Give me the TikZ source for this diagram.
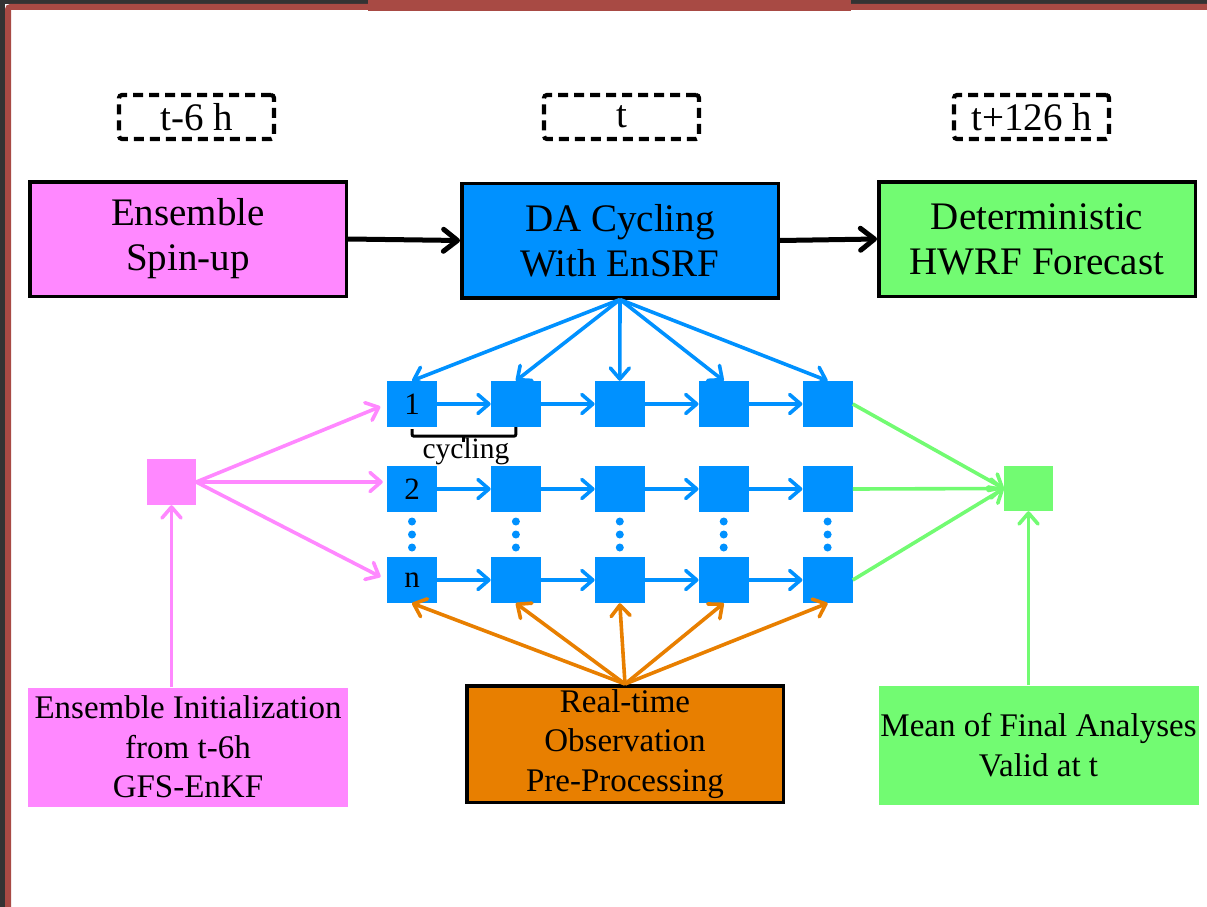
\documentclass[tikz,border=0pt]{standalone}
\usepackage{fontspec}
\setmainfont{Liberation Serif}
\usepackage{tikz}
\usetikzlibrary{arrows.meta, positioning, calc}
\definecolor{slate}{HTML}{333333}
\definecolor{rust}{HTML}{A84A44}
\definecolor{spinpink}{HTML}{FF88FF}
\definecolor{sky}{HTML}{0091FF}
\definecolor{lime}{HTML}{72FB72}
\definecolor{amber}{HTML}{E87F00}

\begin{document}
\begin{tikzpicture}[x=1pt, y=-1pt,
  node distance=53.5pt,
  bigbox/.style={draw=black, line width=3.5pt, minimum width=316.5pt, minimum height=114.5pt, inner sep=0pt, align=center, font=\fontsize{39}{45}\selectfont},
  lowbox/.style={minimum width=320pt, minimum height=119pt, inner sep=0pt, align=center, font=\fontsize{33}{39.5}\selectfont},
  timebox/.style={draw=black, line width=4.2pt, dash pattern=on 10pt off 6pt, rounded corners=3pt, minimum width=155pt, minimum height=44pt, inner sep=0pt, font=\fontsize{39}{44}\selectfont},
  sqr/.style={fill=sky, minimum width=50pt, minimum height=46pt, inner sep=0pt, font=\fontsize{31}{33}\selectfont},
  arr/.style={-{Straight Barb[length=11pt, width=19pt, round]}, line width=3.6pt},
  bigarr/.style={-{Straight Barb[length=14pt, width=22pt, round]}, line width=5pt}
]
  \useasboundingbox (0,0) rectangle (1207,907);
  % slide frame
  \fill[slate] (0,0) rectangle (1207,4);
  \fill[slate] (0,0) rectangle (5,907);
  \fill[rust] (5,907) [rounded corners=5pt] -- (5,4) [sharp corners] -- (1207,4) -- (1207,10) -- (11,10) -- (11,907) -- cycle;
  \fill[rust] (368,0) rectangle (851,11);

  % time labels
  \node[timebox] (tm6) at (196.5,117) {t-6 h};
  \node[timebox] (t0) at (621.5,117) {t};
  \node[timebox] (tp126) at (1031.5,117) {t+126 h};

  % top row
  \node[bigbox, fill=spinpink] (spin) at (188,239) {Ensemble\\Spin-up};
  \node[bigbox, fill=sky] (da) at (620,240.5) {DA Cycling\\With EnSRF};
  \node[bigbox, fill=lime] (det) at (1037,239) {Deterministic\\HWRF Forecast};
  \draw[bigarr] (spin.east) -- (da.west);
  \draw[bigarr] (da.east) -- (det.west);

  % ensemble members
  \foreach \row/\y/\lab in {a/404/1, b/489/2, c/580/n} {
    \node[sqr] (\row1) at (412,\y) {\lab};
    \foreach \col [count=\prev] in {2,...,5}
      \node[sqr, right=of \row\prev] (\row\col) {};
  }
  \foreach \row in {a,b,c}
    \foreach \prev/\col in {1/2, 2/3, 3/4, 4/5}
      \draw[arr, sky] (\row\prev) -- (\row\col);
  \foreach \col in {1,...,5}
    \foreach \k in {-13,0,13}
      \fill[sky] ($(b\col)!0.5!(c\col)+(0,\k)$) circle (4);

  % cycling brace
  \draw[line width=3pt, rounded corners=2pt] (a1.south) ++(0,2) |- ($(a2.south)+(0,9)$) -- (a2.south);
  \draw[line width=3pt] ($(a1.south)!0.5!(a2.south)+(0,9)$) -- ++(0,6);
  \node[font=\fontsize{29.5}{32}\selectfont] (cyc) at (466,451) {cycling};

  \foreach \col in {1,...,5}
    \draw[arr, sky] (da.south) -- (a\col.north);

  % initial and final states
  \node[minimum width=49pt, minimum height=46pt, inner sep=0pt, fill=spinpink] (msq) at (171.5,482) {};
  \node[minimum width=49pt, minimum height=45pt, inner sep=0pt, fill=lime] (gsq) at (1028.5,488.5) {};
  \draw[arr, spinpink, shorten >=7pt] (msq.east) -- (a1.west);
  \draw[arr, spinpink, shorten >=4pt] (msq.east) -- (msq.east -| b1.west);
  \draw[arr, spinpink, shorten >=7pt] (msq.east) -- (c1.west);
  \foreach \row in {a,b,c}
    \draw[arr, lime] (\row5.east) -- (gsq.west);

  % bottom row
  \node[lowbox, fill=spinpink] (init) at (188,747) {Ensemble Initialization\\from t-6h\\GFS-EnKF};
  \node[lowbox, fill=amber, draw=black, line width=3.5pt, minimum width=316.5pt, minimum height=116.5pt] (obs) at (625,744) {Real-time\\Observation\\Pre-Processing};
  \node[lowbox, fill=lime] (mean) at (1038.5,745) {Mean of Final Analyses\\Valid at t};
  \draw[arr, spinpink] (init.north -| msq.south) -- (msq.south);
  \draw[arr, lime] (mean.north -| gsq.south) -- (gsq.south);
  \foreach \col in {1,...,5}
    \draw[arr, amber] (obs.north) -- (c\col.south);
\end{tikzpicture}
\end{document}
